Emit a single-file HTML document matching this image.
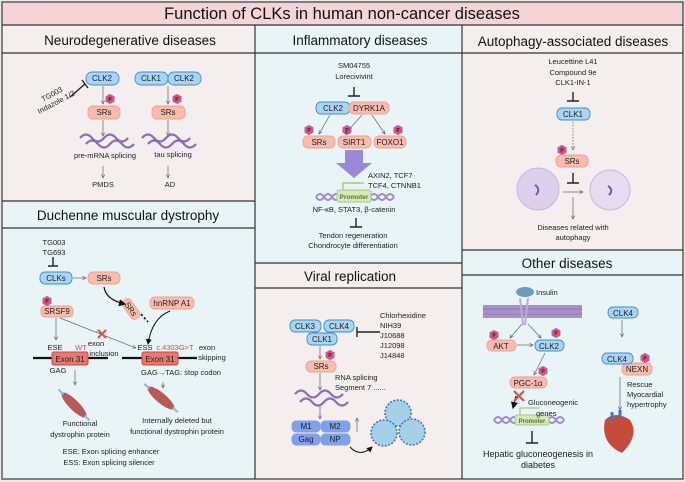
<!DOCTYPE html>
<html><head><meta charset="utf-8"><style>
html,body{margin:0;padding:0;background:#fff;}
svg{display:block;font-family:"Liberation Sans",sans-serif;}
</style></head><body>
<svg width="685" height="482" viewBox="0 0 685 482" xmlns="http://www.w3.org/2000/svg">
<defs>
<marker id="a" markerWidth="6" markerHeight="6" refX="5" refY="3" orient="auto"><path d="M0,0.5 L5,3 L0,5.5" fill="none" stroke="#555" stroke-width="0.8"/></marker>
<marker id="ab" markerWidth="6" markerHeight="6" refX="5" refY="3" orient="auto"><path d="M0,0 L6,3 L0,6z" fill="#111"/></marker>
<g id="p"><polygon points="-4,-2.3 0,-4.6 4,-2.3 4,2.3 0,4.6 -4,2.3" fill="#e8505e" stroke="#9a6ad8" stroke-width="1"/><text x="0" y="2" font-size="5" text-anchor="middle" fill="#5a1020" font-weight="bold">P</text></g>
<path id="w" d="M0,0 q6,-7 12,0 t12,0 t12,0 t12,0" fill="none" stroke="#8c6cc0" stroke-width="2.2"/>
</defs>
<rect x="0" y="0" width="685" height="482" fill="#eceaea"/>
<rect x="2" y="2" width="681" height="23" fill="#f4d4d6"/>
<rect x="2" y="25" width="253" height="176" fill="#f5eeee"/>
<rect x="2" y="201" width="253" height="278" fill="#e9f4f6"/>
<rect x="255" y="25" width="207" height="238" fill="#e9f4f6"/>
<rect x="255" y="263" width="207" height="216" fill="#f5eeee"/>
<rect x="462" y="25" width="221" height="225" fill="#f5eeee"/>
<rect x="462" y="250" width="221" height="229" fill="#e9f4f6"/>
<g stroke="#333" stroke-width="1.2" fill="none">
<rect x="2" y="2" width="681" height="477" stroke="#666" stroke-width="1.6"/>
<line x1="2" y1="25" x2="683" y2="25"/>
<line x1="2" y1="53" x2="683" y2="53"/>
<line x1="2" y1="201" x2="255" y2="201"/>
<line x1="2" y1="228" x2="255" y2="228"/>
<line x1="255" y1="25" x2="255" y2="479"/>
<line x1="462" y1="25" x2="462" y2="479"/>
<line x1="255" y1="263" x2="462" y2="263"/>
<line x1="255" y1="288" x2="462" y2="288"/>
<line x1="462" y1="250" x2="683" y2="250"/>
<line x1="462" y1="275" x2="683" y2="275"/>
</g>
<g fill="#111" text-anchor="middle">
<text x="342" y="19" font-size="16.5">Function of CLKs in human non-cancer diseases</text>
<text x="130" y="45" font-size="13.5">Neurodegenerative diseases</text>
<text x="128" y="220" font-size="13.5">Duchenne muscular dystrophy</text>
<text x="360" y="45" font-size="13.5">Inflammatory diseases</text>
<text x="573" y="46" font-size="13.5">Autophagy-associated diseases</text>
<text x="350" y="281" font-size="13.5">Viral replication</text>
<text x="567" y="268" font-size="13.5">Other diseases</text>
</g>
<g font-size="8" text-anchor="middle" fill="#222" stroke-width="0.9">
<rect x="86" y="72" width="33" height="13" rx="6" fill="#a9d5f2" stroke="#3a8fd2"/><text x="102" y="81">CLK2</text>
<rect x="135" y="72" width="33" height="13" rx="6" fill="#a9d5f2" stroke="#3a8fd2"/><text x="151" y="81">CLK1</text>
<rect x="168" y="72" width="33" height="13" rx="6" fill="#a9d5f2" stroke="#3a8fd2"/><text x="184" y="81">CLK2</text>
<rect x="88" y="106" width="32" height="13" rx="5" fill="#f8bcae" stroke="#f0a090"/><text x="104" y="115">SRs</text>
<rect x="152" y="106" width="33" height="13" rx="5" fill="#f8bcae" stroke="#f0a090"/><text x="168" y="115">SRs</text>
<rect x="40" y="272" width="32" height="12" rx="5" fill="#a9d5f2" stroke="#3a8fd2"/><text x="56" y="281">CLKs</text>
<rect x="88" y="272" width="32" height="12" rx="5" fill="#f8bcae" stroke="#f0a090"/><text x="104" y="281">SRs</text>
<rect x="150" y="297" width="44" height="12" rx="5" fill="#f8bcae" stroke="#f0a090"/><text x="172" y="306">hnRNP A1</text>
<rect x="41" y="306" width="32" height="11" rx="4" fill="#f8bcae" stroke="#f0a090"/><text x="57" y="314">SRSF9</text>
<g transform="translate(131,309) rotate(55)"><rect x="-11" y="-5" width="22" height="10" rx="4" fill="#f8bcae" stroke="#f0a090"/><text x="0" y="3">SRs</text></g>
<rect x="316" y="102" width="34" height="12" rx="5" fill="#a9d5f2" stroke="#3a8fd2"/><text x="333" y="111">CLK2</text>
<rect x="349" y="102" width="40" height="12" rx="5" fill="#f8bcae" stroke="#f0a090"/><text x="369" y="111">DYRK1A</text>
<rect x="303" y="136" width="32" height="12" rx="5" fill="#f8bcae" stroke="#f0a090"/><text x="319" y="145">SRs</text>
<rect x="338" y="136" width="33" height="12" rx="5" fill="#f8bcae" stroke="#f0a090"/><text x="354" y="145">SIRT1</text>
<rect x="374" y="136" width="32" height="12" rx="5" fill="#f8bcae" stroke="#f0a090"/><text x="390" y="145">FOXO1</text>
<rect x="557" y="108" width="33" height="12" rx="5" fill="#a9d5f2" stroke="#3a8fd2"/><text x="573" y="117">CLK1</text>
<rect x="556" y="155" width="32" height="12" rx="5" fill="#f8bcae" stroke="#f0a090"/><text x="572" y="164">SRs</text>
<rect x="290" y="320" width="31" height="12" rx="5" fill="#a9d5f2" stroke="#3a8fd2"/><text x="305" y="329">CLK3</text>
<rect x="324" y="320" width="30" height="12" rx="5" fill="#a9d5f2" stroke="#3a8fd2"/><text x="339" y="329">CLK4</text>
<rect x="307" y="333" width="30" height="12" rx="5" fill="#a9d5f2" stroke="#3a8fd2"/><text x="322" y="342">CLK1</text>
<rect x="306" y="361" width="30" height="11" rx="5" fill="#f8bcae" stroke="#f0a090"/><text x="321" y="369">SRs</text>
<rect x="292" y="421" width="28" height="11" rx="4" fill="#7fa0ea" stroke="#7fa0ea"/><text x="306" y="429">M1</text>
<rect x="321" y="421" width="29" height="11" rx="4" fill="#7fa0ea" stroke="#7fa0ea"/><text x="335" y="429">M2</text>
<rect x="292" y="434" width="28" height="11" rx="4" fill="#7fa0ea" stroke="#7fa0ea"/><text x="306" y="442">Gag</text>
<rect x="321" y="434" width="29" height="11" rx="4" fill="#7fa0ea" stroke="#7fa0ea"/><text x="335" y="442">NP</text>
<rect x="487" y="340" width="29" height="11" rx="5" fill="#f8bcae" stroke="#f0a090"/><text x="501" y="349">AKT</text>
<rect x="535" y="340" width="29" height="11" rx="5" fill="#a9d5f2" stroke="#3a8fd2"/><text x="549" y="349">CLK2</text>
<rect x="510" y="377" width="37" height="11" rx="5" fill="#f8bcae" stroke="#f0a090"/><text x="528" y="386">PGC-1α</text>
<rect x="608" y="307" width="30" height="11" rx="5" fill="#a9d5f2" stroke="#3a8fd2"/><text x="623" y="316">CLK4</text>
<rect x="622" y="363" width="30" height="12" rx="5" fill="#f8bcae" stroke="#f0a090"/><text x="637" y="372">NEXN</text>
<rect x="602" y="353" width="31" height="11" rx="5" fill="#a9d5f2" stroke="#3a8fd2"/><text x="617" y="362">CLK4</text>
</g>
<use href="#p" x="110" y="99"/><use href="#p" x="177" y="99"/>
<use href="#p" x="47" y="301"/>
<use href="#p" x="309" y="130"/><use href="#p" x="347" y="130"/><use href="#p" x="398" y="130"/>
<use href="#p" x="562" y="150"/>
<use href="#p" x="330" y="355"/>
<use href="#p" x="494" y="335"/><use href="#p" x="556" y="333"/><use href="#p" x="543" y="371"/><use href="#p" x="645" y="358"/>
<g stroke="#666" stroke-width="0.7" fill="none" marker-end="url(#a)">
<line x1="103" y1="86" x2="103" y2="104"/><line x1="168" y1="86" x2="168" y2="104"/>
<line x1="103" y1="120" x2="103" y2="136"/><line x1="168" y1="120" x2="168" y2="136"/>
<line x1="103" y1="166" x2="103" y2="178"/><line x1="168" y1="166" x2="168" y2="178"/>
<line x1="73" y1="278" x2="86" y2="278"/>
<line x1="56" y1="318" x2="56" y2="340"/>
<line x1="60" y1="318" x2="136" y2="348"/>
<line x1="75" y1="370" x2="75" y2="385"/>
<line x1="163" y1="382" x2="163" y2="388"/>
<line x1="330" y1="115" x2="319" y2="134"/><line x1="362" y1="115" x2="345" y2="134"/><line x1="372" y1="115" x2="385" y2="134"/>
<line x1="573" y1="197" x2="573" y2="219"/>
<line x1="563" y1="192" x2="583" y2="192"/>
<line x1="320" y1="346" x2="320" y2="359"/><line x1="320" y1="373" x2="320" y2="390"/><line x1="320" y1="405" x2="320" y2="419"/>
<line x1="357" y1="432" x2="357" y2="418"/>
<line x1="522" y1="324" x2="510" y2="338"/><line x1="528" y1="324" x2="541" y2="338"/>
<line x1="517" y1="345" x2="533" y2="345"/>
<line x1="545" y1="353" x2="534" y2="375"/>
<line x1="622" y1="320" x2="622" y2="337"/>
<line x1="620" y1="377" x2="620" y2="410"/>
</g>
<line x1="573" y1="122" x2="573" y2="150" stroke="#555" stroke-width="0.7" stroke-dasharray="1.5,1.5" marker-end="url(#a)"/>
<path d="M104,287 Q106,300 125,304" stroke="#111" stroke-width="1.2" fill="none" marker-end="url(#ab)"/>
<path d="M170,311 Q152,318 148,344" stroke="#111" stroke-width="1" fill="none" marker-end="url(#ab)"/>
<path d="M141,314 L148,322" stroke="#111" stroke-width="1.5" stroke-dasharray="2.5,2" fill="none"/>
<path d="M350,447 Q360,458 372,447" stroke="#111" stroke-width="1" fill="none" marker-end="url(#ab)"/>
<path d="M516,396 L513,408" stroke="#111" stroke-width="1.2" fill="none" marker-end="url(#ab)"/>
<g stroke="#222" stroke-width="1.4" fill="none">
<path d="M70,97 L85,84 M82,80 L88,88"/>
<path d="M53,257 L53,266 M48,266 L58,266"/>
<path d="M354,87 L354,96 M348,96 L360,96"/>
<path d="M356,218 L356,227 M350,227 L362,227"/>
<path d="M573,92 L573,101 M567,101 L579,101"/>
<path d="M573,173 L573,183 M567,183 L579,183"/>
<path d="M380,332 L357,332 M357,327 L357,337"/>
<path d="M532,431 L532,443 M526,443 L538,443"/>
</g>
<use href="#w" x="80" y="138"/><use href="#w" x="86" y="144"/>
<use href="#w" x="142" y="138"/><use href="#w" x="148" y="144"/>
<use href="#w" x="295" y="394"/><use href="#w" x="300" y="402"/>
<g stroke="#111" stroke-width="2.2"><line x1="33" y1="358" x2="108" y2="358"/><line x1="122" y1="358" x2="197" y2="358"/></g>
<rect x="52" y="352" width="36" height="13" rx="2" fill="#e57a74" stroke="#c44" stroke-width="1"/>
<rect x="142" y="352" width="36" height="13" rx="2" fill="#e57a74" stroke="#c44" stroke-width="1"/>
<text x="70" y="362" font-size="8" text-anchor="middle" fill="#222">Exon 31</text>
<text x="160" y="362" font-size="8" text-anchor="middle" fill="#222">Exon 31</text>
<path d="M98,330 L106,338 M106,330 L98,338" stroke="#d9534f" stroke-width="2"/>
<path d="M514,391 L524,401 M524,391 L514,401" stroke="#d9534f" stroke-width="2.2"/>
<g transform="translate(74,405) rotate(45)"><ellipse rx="17" ry="5" fill="#b85a55"/><line x1="-22" y1="0" x2="-15" y2="0" stroke="#8cb8e0" stroke-width="2"/><line x1="15" y1="0" x2="22" y2="0" stroke="#8cb8e0" stroke-width="2"/></g>
<g transform="translate(161,398) rotate(40)"><ellipse rx="17" ry="5" fill="#b85a55"/><line x1="-22" y1="0" x2="-15" y2="0" stroke="#8cb8e0" stroke-width="2"/><line x1="15" y1="0" x2="22" y2="0" stroke="#8cb8e0" stroke-width="2"/></g>
<path d="M345,150 L363,150 L363,163 L372,163 L354,178 L336,163 L345,163z" fill="#9a88d8"/>
<path d="M316,197 q4,-6 8,0 t8,0 t8,0 M370,197 q4,-6 8,0 t8,0 t8,0 M316,197 q4,6 8,0 t8,0 t8,0 M370,197 q4,6 8,0 t8,0 t8,0" stroke="#a08ad0" stroke-width="2" fill="none"/>
<rect x="337" y="190" width="34" height="12" rx="2" fill="#d6e8b8" stroke="#a8c888"/><text x="354" y="199" font-size="6.5" text-anchor="middle" fill="#557733" font-weight="bold">Promoter</text>
<path d="M343,190 L343,183 L364,183" stroke="#a8c888" stroke-width="1.5" fill="none"/>
<path d="M494,420 q4,-6 8,0 t8,0 t8,0 M548,420 q4,-6 8,0 t8,0 M494,420 q4,6 8,0 t8,0 t8,0 M548,420 q4,6 8,0 t8,0" stroke="#a08ad0" stroke-width="2" fill="none"/>
<rect x="515" y="415" width="34" height="10" rx="2" fill="#d6e8b8" stroke="#a8c888"/><text x="532" y="423" font-size="6" text-anchor="middle" fill="#557733" font-weight="bold">Promoter</text>
<path d="M520,415 L520,408 L540,408" stroke="#a8c888" stroke-width="1.3" fill="none"/>
<circle cx="538" cy="189" r="21" fill="#ddd0ec" stroke="#c8b6e0"/><path d="M535,185 q6,4 1,10" stroke="#7a55b0" stroke-width="2" fill="none"/>
<circle cx="610" cy="190" r="20" fill="#e6dcf0" stroke="#c8b6e0"/><path d="M608,186 q6,4 1,9" stroke="#7a55b0" stroke-width="2" fill="none"/>
<g fill="#a6cfe8" stroke="#3a78b0" stroke-width="1.5">
<circle cx="398" cy="413" r="13" stroke-dasharray="2,1.5"/><circle cx="384" cy="433" r="13" stroke-dasharray="2,1.5"/><circle cx="412" cy="432" r="13" stroke-dasharray="2,1.5"/>
</g>
<rect x="483" y="305" width="99" height="13" fill="#a890c8"/>
<g stroke="#7b5fa8" stroke-width="0.5"><path d="M483,309 H582 M483,314 H582"/></g>
<path d="M520,298 L523,325 M528,298 L525,325" stroke="#c0a8d8" stroke-width="2"/>
<ellipse cx="525" cy="292" rx="9" ry="5" fill="#6a9ac0"/>
<path d="M605,420 q10,-10 25,0 q10,15 -8,33 q-22,-10 -17,-33z" fill="#c84a3a"/>
<path d="M612,412 v10 M620,410 v8" stroke="#3a78c8" stroke-width="3"/>
<g font-size="7.5" fill="#222" text-anchor="middle">
<g transform="translate(55,100) rotate(-28)"><text x="0" y="-4">TG003</text><text x="0" y="5">Indazole 1/2</text></g>
<text x="105" y="158">pre-mRNA splicing</text><text x="173" y="157">tau splicing</text>
<text x="103" y="187">PMDS</text><text x="170" y="187">AD</text>
<text x="54" y="245">TG003</text><text x="54" y="255">TG693</text>
<text x="55" y="350">ESE</text><text x="81" y="350" fill="#e04848">WT</text>
<text x="96" y="346">exon</text><text x="104" y="356">inclusion</text>
<text x="145" y="350">ESS</text><text x="175" y="350" fill="#e04848">c.4303G&gt;T</text>
<text x="207" y="350">exon</text><text x="212" y="360">skipping</text>
<text x="58" y="373">GAG</text><text x="181" y="375">GAG→TAG: stop codon</text>
<text x="80" y="426">Functional</text><text x="80" y="437">dystrophin protein</text>
<text x="177" y="423">Internally deleted but</text><text x="177" y="434">functional dystrophin protein</text>
<text x="111" y="454">ESE: Exon splicing enhancer</text><text x="109" y="465">ESS: Exon splicing silencer</text>
<text x="354" y="68">SM04755</text><text x="354" y="79">Lorecivivint</text>
<text x="354" y="212">NF-κB, STAT3, β-catenin</text>
<text x="353" y="238">Tendon regeneration</text><text x="353" y="248">Chondrocyte differentiation</text>
<text x="573" y="64">Leucettine L41</text><text x="573" y="75">Compound 9e</text><text x="573" y="85">CLK1-IN-1</text>
<text x="573" y="230">Diseases related with</text><text x="573" y="240">autophagy</text>
<g text-anchor="start">
<text x="368" y="178">AXIN2, TCF7</text><text x="368" y="188">TCF4, CTNNB1</text>
<text x="380" y="318">Chlorhexidine</text><text x="380" y="328">NIH39</text><text x="380" y="338">J10688</text><text x="380" y="348">J12098</text><text x="380" y="358">J14848</text>
<text x="335" y="380">RNA splicing</text><text x="335" y="390">Segment 7 ......</text>
<text x="536" y="295">Insulin</text>
<text x="528" y="405">Gluconeogenic</text><text x="536" y="416">genes</text>
<text x="627" y="387">Rescue</text><text x="627" y="397">Myocardial</text><text x="627" y="407">hypertrophy</text>
</g>
<text x="538" y="457" font-size="9">Hepatic gluconeogenesis in</text><text x="538" y="468" font-size="9">diabetes</text>
</g>
</svg>
</body></html>
